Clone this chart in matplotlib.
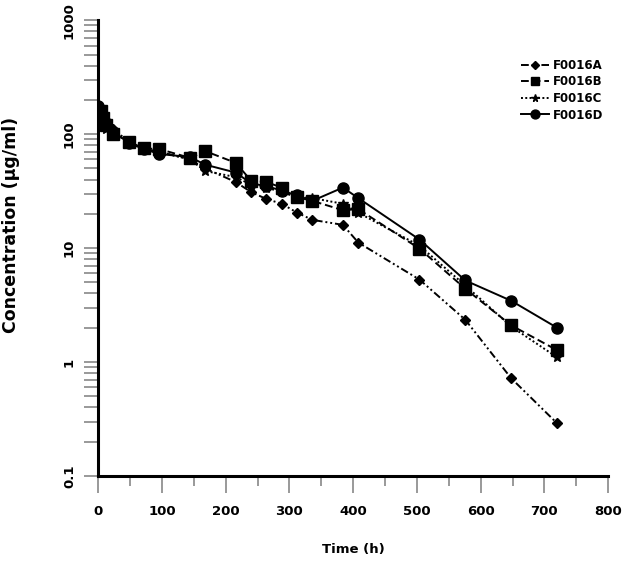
"""F0016 concentration-time profiles (semi-log)"""
import matplotlib
matplotlib.use('Agg')
import matplotlib.pyplot as plt
from matplotlib.ticker import LogLocator, FixedLocator, MultipleLocator, NullFormatter

plt.rcParams['font.family'] = ['DejaVu Sans']
plt.rcParams['font.weight'] = 'bold'

# sampling times (h)
time_h = [0, 4, 8, 12, 24, 48, 72, 96, 144, 168, 216, 240, 264, 288, 312, 336,
          384, 408, 504, 576, 648, 720]

conc_A = [145, 140, 125, 118, 112, 85, 74, 70, 60, 50, 38, 31, 27, 24.5, 20.5, 17.7,
          16, 11.2, 5.3, 2.35, 0.72, 0.29]
conc_B = [135, 160, 140, 120, 100, 86, 75, 74, 62, 71, 56, 39, 38, 34, 28, 26,
          21.5, 22, 9.9, 4.4, 2.1, 1.27]
conc_C = [150, 130, 120, 110, 105, 83, 74, 70, 60, 47.5, 42, 36, 34, 31, 28, 27.5,
          24.5, 20.5, 10.5, 4.7, 2.05, 1.1]
conc_D = [175, 150, 145, 125, 105, 84, 74, 67, 63, 54, 46, 37, 35, 32, 29, 26,
          34, 27.5, 11.9, 5.2, 3.45, 2.0]

labels = ['F0016A', 'F0016B', 'F0016C', 'F0016D']

fig = plt.figure(figsize=(6.25, 5.62), dpi=100)
ax = fig.add_axes([0.157, 0.153, 0.816, 0.811])

ax.plot(time_h, conc_A, color='black', lw=1.4, ls=(0, (4, 1.5, 1, 1.5, 1, 1.5)),
        marker='D', ms=5, label=labels[0])
ax.plot(time_h, conc_B, color='black', lw=1.4, ls=(0, (4, 2)),
        marker='s', ms=8, label=labels[1])
ax.plot(time_h, conc_C, color='black', lw=1.4, ls=(0, (1, 1.2)),
        marker='*', ms=7, label=labels[2])
ax.plot(time_h, conc_D, color='black', lw=1.4, ls='-',
        marker='o', ms=8, label=labels[3])

ax.set_yscale('log')
ax.set_ylim(0.1, 1000)
ax.set_xlim(0, 800)

ax.xaxis.set_major_locator(MultipleLocator(100))
ax.xaxis.set_minor_locator(MultipleLocator(50))
ax.yaxis.set_major_locator(FixedLocator([0.1, 1, 10, 100, 1000]))
ax.yaxis.set_minor_locator(LogLocator(base=10, subs=range(2, 10)))
ax.yaxis.set_minor_formatter(NullFormatter())
ax.set_yticklabels(['0.1', '1', '10', '100', '1000'], rotation=90, va='center')

for side in ['top', 'right']:
    ax.spines[side].set_visible(False)
ax.spines['left'].set_linewidth(2.2)
ax.spines['bottom'].set_linewidth(2.2)

ax.tick_params(axis='both', which='major', color='#888888', width=1.2,
               labelsize=9.5, pad=6)
ax.tick_params(axis='both', which='minor', color='#888888', width=1.2)
ax.tick_params(axis='y', which='both', length=10)
ax.tick_params(axis='x', which='major', length=12, pad=9)
ax.tick_params(axis='x', which='minor', length=7)

ax.set_xlabel('Time (h)', fontsize=9.5, fontweight='bold', labelpad=18)
ax.set_ylabel('Concentration (μg/ml)', fontsize=12.5, fontweight='bold')
ax.yaxis.set_label_coords(-0.153, 0.55)

ax.legend(loc='upper left', bbox_to_anchor=(0.817, 0.928), frameon=False,
          fontsize=8.5, handlelength=2.4, handletextpad=0.3, labelspacing=0.3,
          borderpad=0, markerscale=0.8)

plt.savefig('out.png', dpi=100)
plt.close()
